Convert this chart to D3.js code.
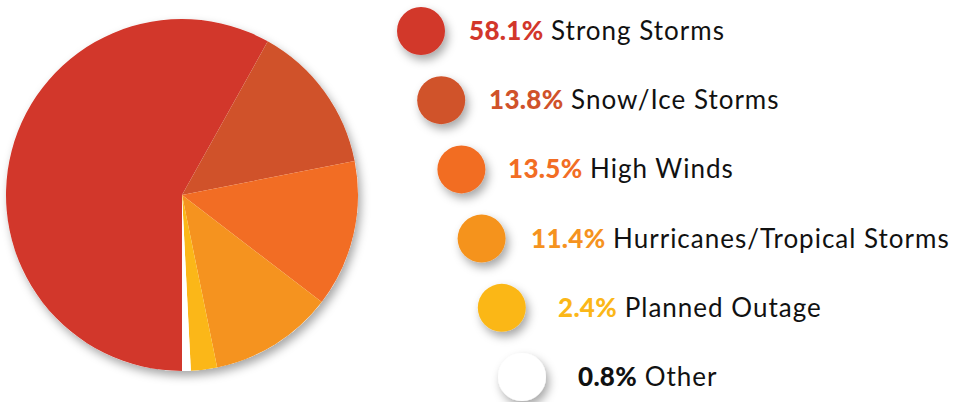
<!DOCTYPE html>
<html>
<head>
<meta charset="utf-8">
<script src="https://cdn.jsdelivr.net/npm/d3@7"></script>
<style>
  body { margin: 0; background: #fff; }
  svg { display: block; }
</style>
</head>
<body>
<div id="chart"></div>
<script>
// Outage causes and their share of the total
const causes = ["Strong Storms", "Snow/Ice Storms", "High Winds", "Hurricanes/Tropical Storms", "Planned Outage", "Other"];
const shares = [58.1, 13.8, 13.5, 11.4, 2.4, 0.8];
const colors = ["#d2372b", "#d0522a", "#f26d24", "#f5931f", "#fbb718", "#ffffff"];
const pctColors = ["#d2372b", "#d0522a", "#f26d24", "#f5931f", "#fbb718", "#111111"];

const data = causes.map((c, i) => ({ cause: c, value: shares[i] }));

const width = 961, height = 402;

const svg = d3.select("#chart")
    .append("svg")
    .attr("width", width)
    .attr("height", height);

// soft drop shadow like the original graphic
const defs = svg.append("defs");
const shadow = defs.append("filter")
    .attr("id", "shadow")
    .attr("x", "-30%").attr("y", "-30%")
    .attr("width", "160%").attr("height", "160%");
shadow.append("feDropShadow")
    .attr("dx", 3).attr("dy", 5)
    .attr("stdDeviation", 5)
    .attr("flood-color", "#000")
    .attr("flood-opacity", 0.35);

// Pie, starting at 6 o'clock and going clockwise
const cx = 182, cy = 195, radius = 176;

const pie = d3.pie()
    .sort(null)
    .value(d => d.value)
    .startAngle(Math.PI)
    .endAngle(3 * Math.PI);

const arc = d3.arc()
    .innerRadius(0)
    .outerRadius(radius);

const pieG = svg.append("g")
    .attr("transform", `translate(${cx},${cy})`);

pieG.append("circle")
    .attr("r", radius)
    .attr("fill", "#fff")
    .attr("filter", "url(#shadow)");

pieG.selectAll("path")
    .data(pie(data))
    .join("path")
    .attr("d", arc)
    .attr("fill", (d, i) => colors[i]);

// Legend: circles stepping down and to the right
const y = d3.scalePoint()
    .domain(causes)
    .range([31, 377]);

const xCircle = d3.scaleLinear()
    .domain([0, causes.length - 1])
    .range([421, 522]);

const xText = d3.scaleOrdinal()
    .domain(causes)
    .range([469, 489, 508, 531, 558, 578]);

const legend = svg.append("g");

const rows = legend.selectAll("g.row")
    .data(data)
    .join("g")
    .attr("class", "row");

rows.append("circle")
    .attr("cx", (d, i) => xCircle(i))
    .attr("cy", d => y(d.cause))
    .attr("r", 24)
    .attr("fill", (d, i) => colors[i])
    .attr("filter", "url(#shadow)");

const label = rows.append("text")
    .attr("x", d => xText(d.cause))
    .attr("y", d => y(d.cause) + 9)
    .attr("font-family", "Lato, 'Open Sans', sans-serif")
    .attr("font-size", 26);

label.append("tspan")
    .attr("font-weight", 900)
    .attr("letter-spacing", 0.3)
    .attr("fill", (d, i) => pctColors[i])
    .text(d => d.value.toFixed(1) + "%");

label.append("tspan")
    .attr("fill", "#111")
    .attr("font-weight", 400)
    .attr("letter-spacing", 1)
    .text(d => " " + d.cause);
</script>
</body>
</html>
